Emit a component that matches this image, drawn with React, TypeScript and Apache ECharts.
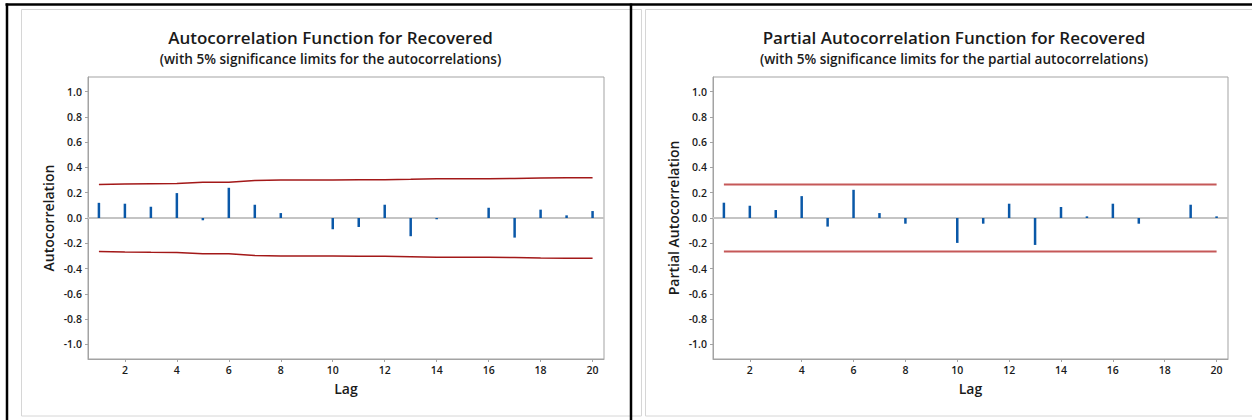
import React, { useEffect, useRef } from "react";
import * as echarts from "echarts";

const lags = [1, 2, 3, 4, 5, 6, 7, 8, 9, 10, 11, 12, 13, 14, 15, 16, 17, 18, 19, 20];
const acfValues = [0.12, 0.113, 0.089, 0.197, -0.018, 0.239, 0.105, 0.039, 0.0, -0.089, -0.071, 0.105, -0.144, -0.01, 0.0, 0.081, -0.155, 0.066, 0.021, 0.055];
const acfUpper = [0.264, 0.268, 0.271, 0.273, 0.283, 0.283, 0.297, 0.3, 0.3, 0.3, 0.302, 0.303, 0.306, 0.31, 0.31, 0.31, 0.312, 0.317, 0.318, 0.318];
const acfLower = [-0.264, -0.268, -0.271, -0.273, -0.283, -0.283, -0.297, -0.3, -0.3, -0.3, -0.302, -0.303, -0.306, -0.31, -0.31, -0.31, -0.312, -0.317, -0.318, -0.318];
const pacfValues = [0.121, 0.097, 0.063, 0.173, -0.068, 0.223, 0.039, -0.045, 0.0, -0.197, -0.045, 0.113, -0.213, 0.087, 0.013, 0.113, -0.045, 0.0, 0.105, 0.013];
const pacfUpper = [0.264, 0.264, 0.264, 0.264, 0.264, 0.264, 0.264, 0.264, 0.264, 0.264, 0.264, 0.264, 0.264, 0.264, 0.264, 0.264, 0.264, 0.264, 0.264, 0.264];
const pacfLower = [-0.264, -0.264, -0.264, -0.264, -0.264, -0.264, -0.264, -0.264, -0.264, -0.264, -0.264, -0.264, -0.264, -0.264, -0.264, -0.264, -0.264, -0.264, -0.264, -0.264];
const yTicks = [-1.0, -0.8, -0.6, -0.4, -0.2, 0.0, 0.2, 0.4, 0.6, 0.8, 1.0];
const xTicks = [2, 4, 6, 8, 10, 12, 14, 16, 18, 20];

const titles = ["Autocorrelation Function for Recovered", "Partial Autocorrelation Function for Recovered"];
const subtitles = ["(with 5% significance limits for the autocorrelations)", "(with 5% significance limits for the partial autocorrelations)"];
const yNames = ["Autocorrelation", "Partial Autocorrelation"];
const xName = "Lag";

const FONT = "'Open Sans', 'Noto Sans', sans-serif";
const TEXT = "#1a1a1a";
const AXIS = "#a3a3a3";
const BAR = "#0a58a8";
const LIMITS = ["#a31818", "#c55858"];
const LIMIT_WIDTHS = [1.5, 2];

function pairs(xs: number[], ys: number[]) {
  return xs.map((x, i) => [x, ys[i]]);
}

export default function App() {
  const ref = useRef<HTMLDivElement>(null);
  useEffect(() => {
    document.body.style.margin = "0";
    if (!ref.current) return;
    const chart = echarts.init(ref.current, null, { renderer: "svg" });
    const grids = [
      { left: 88, top: 77, width: 516, height: 282 },
      { left: 713, top: 77, width: 515, height: 282 },
    ];
    const panelCenters = [325.5, 949];
    const xAxes = grids.map((_, i) => ({
      type: "value",
      gridIndex: i,
      min: 0.58,
      max: 20.44,
      name: xName,
      nameLocation: "middle",
      nameGap: 22,
      nameTextStyle: { fontFamily: FONT, fontSize: 14, fontWeight: 600, color: TEXT },
      axisLine: { show: true, onZero: false, lineStyle: { color: AXIS, width: 1 } },
      axisTick: { show: true, length: 3, customValues: xTicks, lineStyle: { color: AXIS } },
      axisLabel: {
        customValues: xTicks,
        margin: 5,
        fontFamily: FONT,
        fontSize: 10.5,
        fontWeight: 600,
        color: TEXT,
        formatter: (v: number) => String(v),
      },
      splitLine: { show: false },
    }));
    const yAxes = grids.map((_, i) => ({
      type: "value",
      gridIndex: i,
      min: -1.115,
      max: 1.115,
      name: yNames[i],
      nameLocation: "middle",
      nameGap: 33,
      nameRotate: 90,
      nameTextStyle: { fontFamily: FONT, fontSize: 14, fontWeight: 600, color: TEXT },
      axisLine: { show: true, onZero: false, lineStyle: { color: AXIS, width: 1 } },
      axisTick: { show: true, length: 3, customValues: yTicks, lineStyle: { color: AXIS } },
      axisLabel: {
        customValues: yTicks,
        margin: 6,
        fontFamily: FONT,
        fontSize: 10.5,
        fontWeight: 600,
        color: TEXT,
        formatter: (v: number) => v.toFixed(1),
      },
      splitLine: { show: false },
    }));
    const values = [acfValues, pacfValues];
    const uppers = [acfUpper, pacfUpper];
    const lowers = [acfLower, pacfLower];
    const series: any[] = [];
    [0, 1].forEach((i) => {
      series.push({
        type: "bar",
        xAxisIndex: i,
        yAxisIndex: i,
        data: pairs(lags, values[i]),
        barWidth: 2.5,
        itemStyle: { color: BAR },
        silent: true,
        markLine: {
          silent: true,
          symbol: "none",
          label: { show: false },
          lineStyle: { color: "#c4c4c4", width: 2, type: "solid" },
          data: [{ yAxis: 0 }],
          z: 1,
        },
        z: 3,
      });
      [uppers[i], lowers[i]].forEach((arr) => {
        series.push({
          type: "line",
          xAxisIndex: i,
          yAxisIndex: i,
          data: pairs(lags, arr),
          symbol: "none",
          lineStyle: { color: LIMITS[i], width: LIMIT_WIDTHS[i] },
          silent: true,
          z: 4,
        });
      });
    });
    chart.setOption({
      animation: false,
      backgroundColor: "#ffffff",
      title: [0, 1].map((i) => ({
        text: titles[i],
        subtext: subtitles[i],
        left: panelCenters[i],
        textAlign: "center",
        top: 22,
        itemGap: 2,
        textStyle: { fontFamily: FONT, fontSize: 17, fontWeight: 600, color: TEXT, lineHeight: 21 },
        subtextStyle: { fontFamily: FONT, fontSize: 13.6, fontWeight: 600, color: TEXT, lineHeight: 16 },
      })),
      grid: grids.map((g) => ({ ...g, show: true, borderColor: AXIS, borderWidth: 1, backgroundColor: "#fff" })),
      xAxis: xAxes,
      yAxis: yAxes,
      series,
      graphic: [
        { type: "rect", shape: { x: 21.5, y: 9.5, width: 620, height: 406.5 }, style: { fill: "none", stroke: "#d6d6d6", lineWidth: 1 }, z: -1, silent: true },
        { type: "rect", shape: { x: 645.5, y: 9.5, width: 620, height: 406.5 }, style: { fill: "none", stroke: "#d6d6d6", lineWidth: 1 }, z: -1, silent: true },
        { type: "line", shape: { x1: 5.5, y1: 4.5, x2: 1252, y2: 4.5 }, style: { stroke: "#000", lineWidth: 2.5 }, silent: true },
        { type: "line", shape: { x1: 7, y1: 3.5, x2: 7, y2: 420 }, style: { stroke: "#000", lineWidth: 2.5 }, silent: true },
        { type: "line", shape: { x1: 631, y1: 3.5, x2: 631, y2: 420 }, style: { stroke: "#000", lineWidth: 2.5 }, silent: true },
      ],
    });
    return () => chart.dispose();
  }, []);
  return <div ref={ref} style={{ width: 1252, height: 420 }} />;
}
